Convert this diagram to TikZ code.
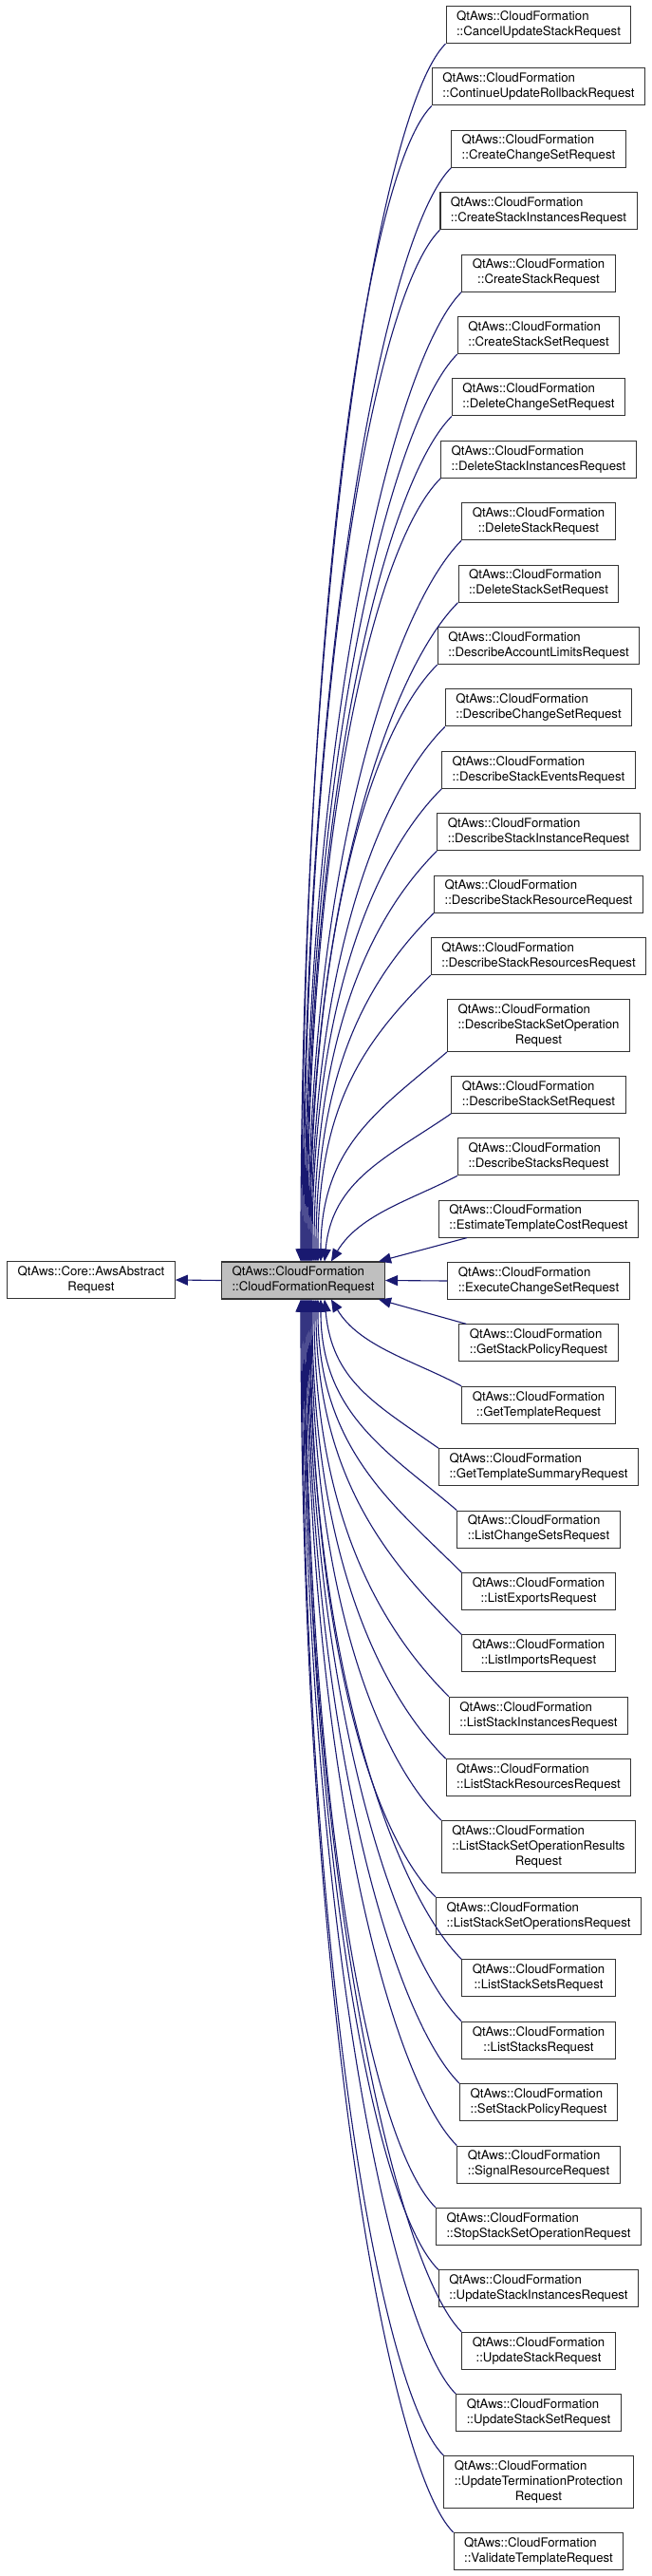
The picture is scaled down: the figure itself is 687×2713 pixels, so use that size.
\documentclass[tikz,border=0pt]{standalone}
\usepackage{fontspec}
\setmainfont{TeX Gyre Heros}
\usetikzlibrary{arrows.meta}
\definecolor{edgeblue}{HTML}{191970}
\definecolor{nodegray}{HTML}{BFBFBF}
\newcommand{\twol}[2]{\begin{tabular}{@{}l@{}}#1\\\multicolumn{1}{@{}c@{}}{#2}\end{tabular}}
\newcommand{\threel}[3]{\begin{tabular}{@{}l@{}}#1\\#2\\\multicolumn{1}{@{}c@{}}{#3}\end{tabular}}
\newcommand{\cf}[1]{\twol{QtAws::CloudFormation}{::#1}}
\newcommand{\cft}[2]{\threel{QtAws::CloudFormation}{::#1}{#2}}
\begin{document}
\begin{tikzpicture}[x=1pt,y=-1pt,
  box/.style={draw=black!80, line width=1.1pt, fill=white, inner xsep=11pt, inner ysep=3.5pt,
    font=\fontsize{13.2}{16}\selectfont},
  parentbox/.style={box, fill=nodegray},
  edge/.style={draw=edgeblue, line width=1.1pt, -{Triangle[length=13pt,width=11pt]}}]
\useasboundingbox (0,0) rectangle (687,2713);
\node[box] (base) at (96,1348) {\twol{QtAws::Core::AwsAbstract}{Request}};
\node[parentbox] (p) at (319.5,1348.5) {\cf{CloudFormationRequest}};
\node[box] (c1) at (567.5,26) {\cf{CancelUpdateStackRequest}};
\node[box] (c2) at (567.5,91.4) {\cf{ContinueUpdateRollbackRequest}};
\node[box] (c3) at (567.5,156.8) {\cf{CreateChangeSetRequest}};
\node[box] (c4) at (567.5,222.2) {\cf{CreateStackInstancesRequest}};
\node[box] (c5) at (567.5,287.6) {\cf{CreateStackRequest}};
\node[box] (c6) at (567.5,353) {\cf{CreateStackSetRequest}};
\node[box] (c7) at (567.5,418.4) {\cf{DeleteChangeSetRequest}};
\node[box] (c8) at (567.5,483.8) {\cf{DeleteStackInstancesRequest}};
\node[box] (c9) at (567.5,549.2) {\cf{DeleteStackRequest}};
\node[box] (c10) at (567.5,614.6) {\cf{DeleteStackSetRequest}};
\node[box] (c11) at (567.5,680) {\cf{DescribeAccountLimitsRequest}};
\node[box] (c12) at (567.5,745.4) {\cf{DescribeChangeSetRequest}};
\node[box] (c13) at (567.5,810.8) {\cf{DescribeStackEventsRequest}};
\node[box] (c14) at (567.5,876.2) {\cf{DescribeStackInstanceRequest}};
\node[box] (c15) at (567.5,941.6) {\cf{DescribeStackResourceRequest}};
\node[box] (c16) at (567.5,1007) {\cf{DescribeStackResourcesRequest}};
\node[box] (c17) at (567.5,1079.9) {\cft{DescribeStackSetOperation}{Request}};
\node[box] (c18) at (567.5,1152.8) {\cf{DescribeStackSetRequest}};
\node[box] (c19) at (567.5,1218.2) {\cf{DescribeStacksRequest}};
\node[box] (c20) at (567.5,1283.6) {\cf{EstimateTemplateCostRequest}};
\node[box] (c21) at (567.5,1349) {\cf{ExecuteChangeSetRequest}};
\node[box] (c22) at (567.5,1414.4) {\cf{GetStackPolicyRequest}};
\node[box] (c23) at (567.5,1479.8) {\cf{GetTemplateRequest}};
\node[box] (c24) at (567.5,1545.2) {\cf{GetTemplateSummaryRequest}};
\node[box] (c25) at (567.5,1610.6) {\cf{ListChangeSetsRequest}};
\node[box] (c26) at (567.5,1676) {\cf{ListExportsRequest}};
\node[box] (c27) at (567.5,1741.4) {\cf{ListImportsRequest}};
\node[box] (c28) at (567.5,1806.8) {\cf{ListStackInstancesRequest}};
\node[box] (c29) at (567.5,1872.2) {\cf{ListStackResourcesRequest}};
\node[box] (c30) at (567.5,1945.1) {\cft{ListStackSetOperationResults}{Request}};
\node[box] (c31) at (567.5,2018) {\cf{ListStackSetOperationsRequest}};
\node[box] (c32) at (567.5,2083.4) {\cf{ListStackSetsRequest}};
\node[box] (c33) at (567.5,2148.8) {\cf{ListStacksRequest}};
\node[box] (c34) at (567.5,2214.2) {\cf{SetStackPolicyRequest}};
\node[box] (c35) at (567.5,2279.6) {\cf{SignalResourceRequest}};
\node[box] (c36) at (567.5,2345) {\cf{StopStackSetOperationRequest}};
\node[box] (c37) at (567.5,2410.4) {\cf{UpdateStackInstancesRequest}};
\node[box] (c38) at (567.5,2475.8) {\cf{UpdateStackRequest}};
\node[box] (c39) at (567.5,2541.2) {\cf{UpdateStackSetRequest}};
\node[box] (c40) at (567.5,2614.1) {\cft{UpdateTerminationProtection}{Request}};
\node[box] (c41) at (567.5,2687) {\cf{ValidateTemplateRequest}};
% edges
\draw[edge] (p.west) -- (base.east);
\foreach \nI/\nA/\nR/\nC/\nB/\nO in {1/70/70/0/706/84, 2/70/70/0/670/85, 3/70/70/0/634/86,
  4/70/70/0/598/87, 5/70/70/0/562/88, 6/70/70/0/526/89, 7/70/70/0/490/90, 8/70/70/0/454/91,
  9/70/70/0/418/92, 10/70/70/0/382/93, 11/70/70/0/346/94, 12/70/70/0/310/95, 13/70/70/0/274/96,
  14/70/70/0/238/98, 15/70/70/0/202/100, 16/70/70/0/166/102, 17/70/60/0/122/105,
  18/67/46/8/86/109, 19/47/25/30/50/116}
  \draw[edge] (c\nI.south west) .. controls +(-\nA,\nR) and +(\nC,-\nB) .. ([xshift=\nO pt]p.north west);
\draw[edge] ([xshift=30pt]c20.south west) -- ([xshift=-7pt]p.north east);
\draw[edge] (c21.west) -- (p.east);
\draw[edge] ([xshift=8pt]c22.north west) -- ([xshift=-7pt]p.south east);
\foreach \nI/\nA/\nR/\nC/\nB/\nO in {23/48/26/30/50/116, 24/67/47/8/86/109, 25/70/60/0/122/105,
  26/70/70/0/158/102, 27/70/70/0/194/100, 28/70/70/0/230/98, 29/70/70/0/266/96,
  30/70/70/0/302/95, 31/70/70/0/346/94, 32/70/70/0/382/93, 33/70/70/0/418/92,
  34/70/70/0/454/91, 35/70/70/0/490/90, 36/70/70/0/526/89, 37/70/70/0/562/88,
  38/70/70/0/598/87, 39/70/70/0/634/86, 40/70/70/0/670/85, 41/70/70/0/714/84}
  \draw[edge] (c\nI.north west) .. controls +(-\nA,-\nR) and +(\nC,\nB) .. ([xshift=\nO pt]p.south west);
\end{tikzpicture}
\end{document}
